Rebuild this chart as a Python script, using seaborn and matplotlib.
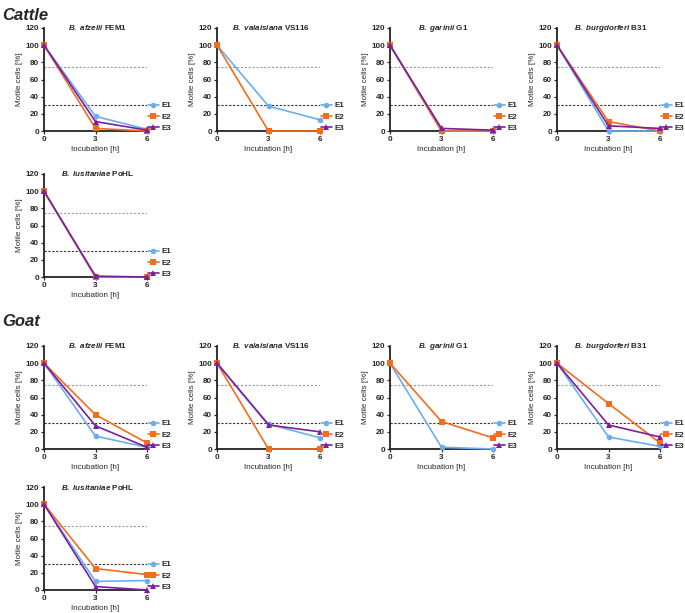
import numpy as np
import pandas as pd
import matplotlib.pyplot as plt
import seaborn as sns

sns.set_style("ticks")
plt.rcParams['font.family'] = ['Liberation Sans', 'DejaVu Sans']
plt.rcParams['font.weight'] = 'bold'
plt.rcParams['mathtext.fontset'] = 'custom'
plt.rcParams['mathtext.it'] = 'Liberation Sans:italic:bold'
plt.rcParams['mathtext.rm'] = 'Liberation Sans:bold'

hours = [0, 3, 6]
strains = [r"$\it{B.}$ $\it{afzelii}$ FEM1", r"$\it{B.}$ $\it{valaisiana}$ VS116", r"$\it{B.}$ $\it{garinii}$ G1",
           r"$\it{B.}$ $\it{burgdorferi}$ B31", r"$\it{B.}$ $\it{lusitaniae}$ PoHL"]

# motile cells [%] at 0, 3, 6 h per experiment
cattle_e1 = [[100, 17, 2], [100, 29, 13], [100, 0, 0], [100, 0, 0], [100, 0, 0]]
cattle_e2 = [[100, 3, 0], [100, 0, 0], [100, 0, 0], [100, 11, 0], [100, 0, 0]]
cattle_e3 = [[100, 11, 1], [np.nan, np.nan, np.nan], [100, 3, 1], [100, 6, 3], [100, 1, 0]]
goat_e1 = [[100, 15, 2], [100, 29, 13], [100, 2, 0], [100, 14, 3], [100, 10, 11]]
goat_e2 = [[100, 40, 7], [100, 0, 0], [100, 32, 13], [100, 53, 7], [100, 25, 18]]
goat_e3 = [[100, 27, 2], [100, 28, 20], [np.nan, np.nan, np.nan], [100, 28, 14], [100, 4, 0]]

colors = {'E1': '#6aaef0', 'E2': '#f26d1c', 'E3': '#7a1fa0'}
markers = {'E1': 'o', 'E2': 's', 'E3': '^'}

rows = []
for host, sets in [('Cattle', [cattle_e1, cattle_e2, cattle_e3]), ('Goat', [goat_e1, goat_e2, goat_e3])]:
    for e, vals in zip(['E1', 'E2', 'E3'], sets):
        for s, strain in enumerate(strains):
            for h, v in zip(hours, vals[s]):
                rows.append({'host': host, 'exp': e, 'strain': s, 'hour': h, 'motile': v})
df = pd.DataFrame(rows)

fig = plt.figure(figsize=(6.85, 6.13), dpi=100)
W, H = 685, 613
col_x = [44, 217, 390, 557]
row_y = {('Cattle', 0): 131, ('Cattle', 1): 277, ('Goat', 0): 449, ('Goat', 1): 590}
aw, ah = 103, 103

for host in ['Cattle', 'Goat']:
    for s in range(5):
        r = 0 if s < 4 else 1
        c = s if s < 4 else 0
        ax = fig.add_axes([col_x[c] / W, 1 - row_y[(host, r)] / H, aw / W, ah / H])
        sub = df[(df.host == host) & (df.strain == s)].dropna()
        ax.axhline(75, color='#9a9a9a', ls=(0, (2, 1.5)), lw=0.8, zorder=1)
        ax.axhline(30, color='#333333', ls=(0, (2, 1.5)), lw=0.8, zorder=1)
        sns.lineplot(data=sub, x='hour', y='motile', hue='exp', style='exp',
                     hue_order=['E1', 'E2', 'E3'], style_order=['E1', 'E2', 'E3'],
                     palette=colors, markers=markers, dashes=False, markersize=4,
                     markeredgewidth=0, lw=1.2, ax=ax, clip_on=False, zorder=3)
        ax.set_xlim(0, 6)
        ax.set_ylim(0, 120)
        ax.set_xticks(hours)
        ax.set_yticks(range(0, 121, 20))
        ax.tick_params(labelsize=5.8, length=2.5, width=0.9, pad=1)
        for sp in ['left', 'bottom']:
            ax.spines[sp].set_linewidth(1.3)
            ax.spines[sp].set_color('#222222')
        sns.despine(ax=ax)
        ax.text(0.52, 1.0, strains[s], transform=ax.transAxes, ha='center', va='center', fontsize=5.8)
        ax.set_ylabel('Motile cells [%]', fontsize=5.8, labelpad=1.5)
        ax.set_xlabel('Incubation [h]', fontsize=5.8, labelpad=2)
        ax.legend(loc='lower left', bbox_to_anchor=(0.98, -0.04), frameon=False,
                  fontsize=5.8, handlelength=1.3, labelspacing=0.45,
                  handletextpad=0.3, borderaxespad=0)
        for t in ax.get_xticklabels() + ax.get_yticklabels():
            t.set_fontweight('bold')

fig.text(2 / W, 1 - 16 / H, 'Cattle', fontsize=12, fontweight='bold', style='italic', va='center')
fig.text(2 / W, 1 - 321 / H, 'Goat', fontsize=12, fontweight='bold', style='italic', va='center')

fig.savefig('out.png', dpi=100)
